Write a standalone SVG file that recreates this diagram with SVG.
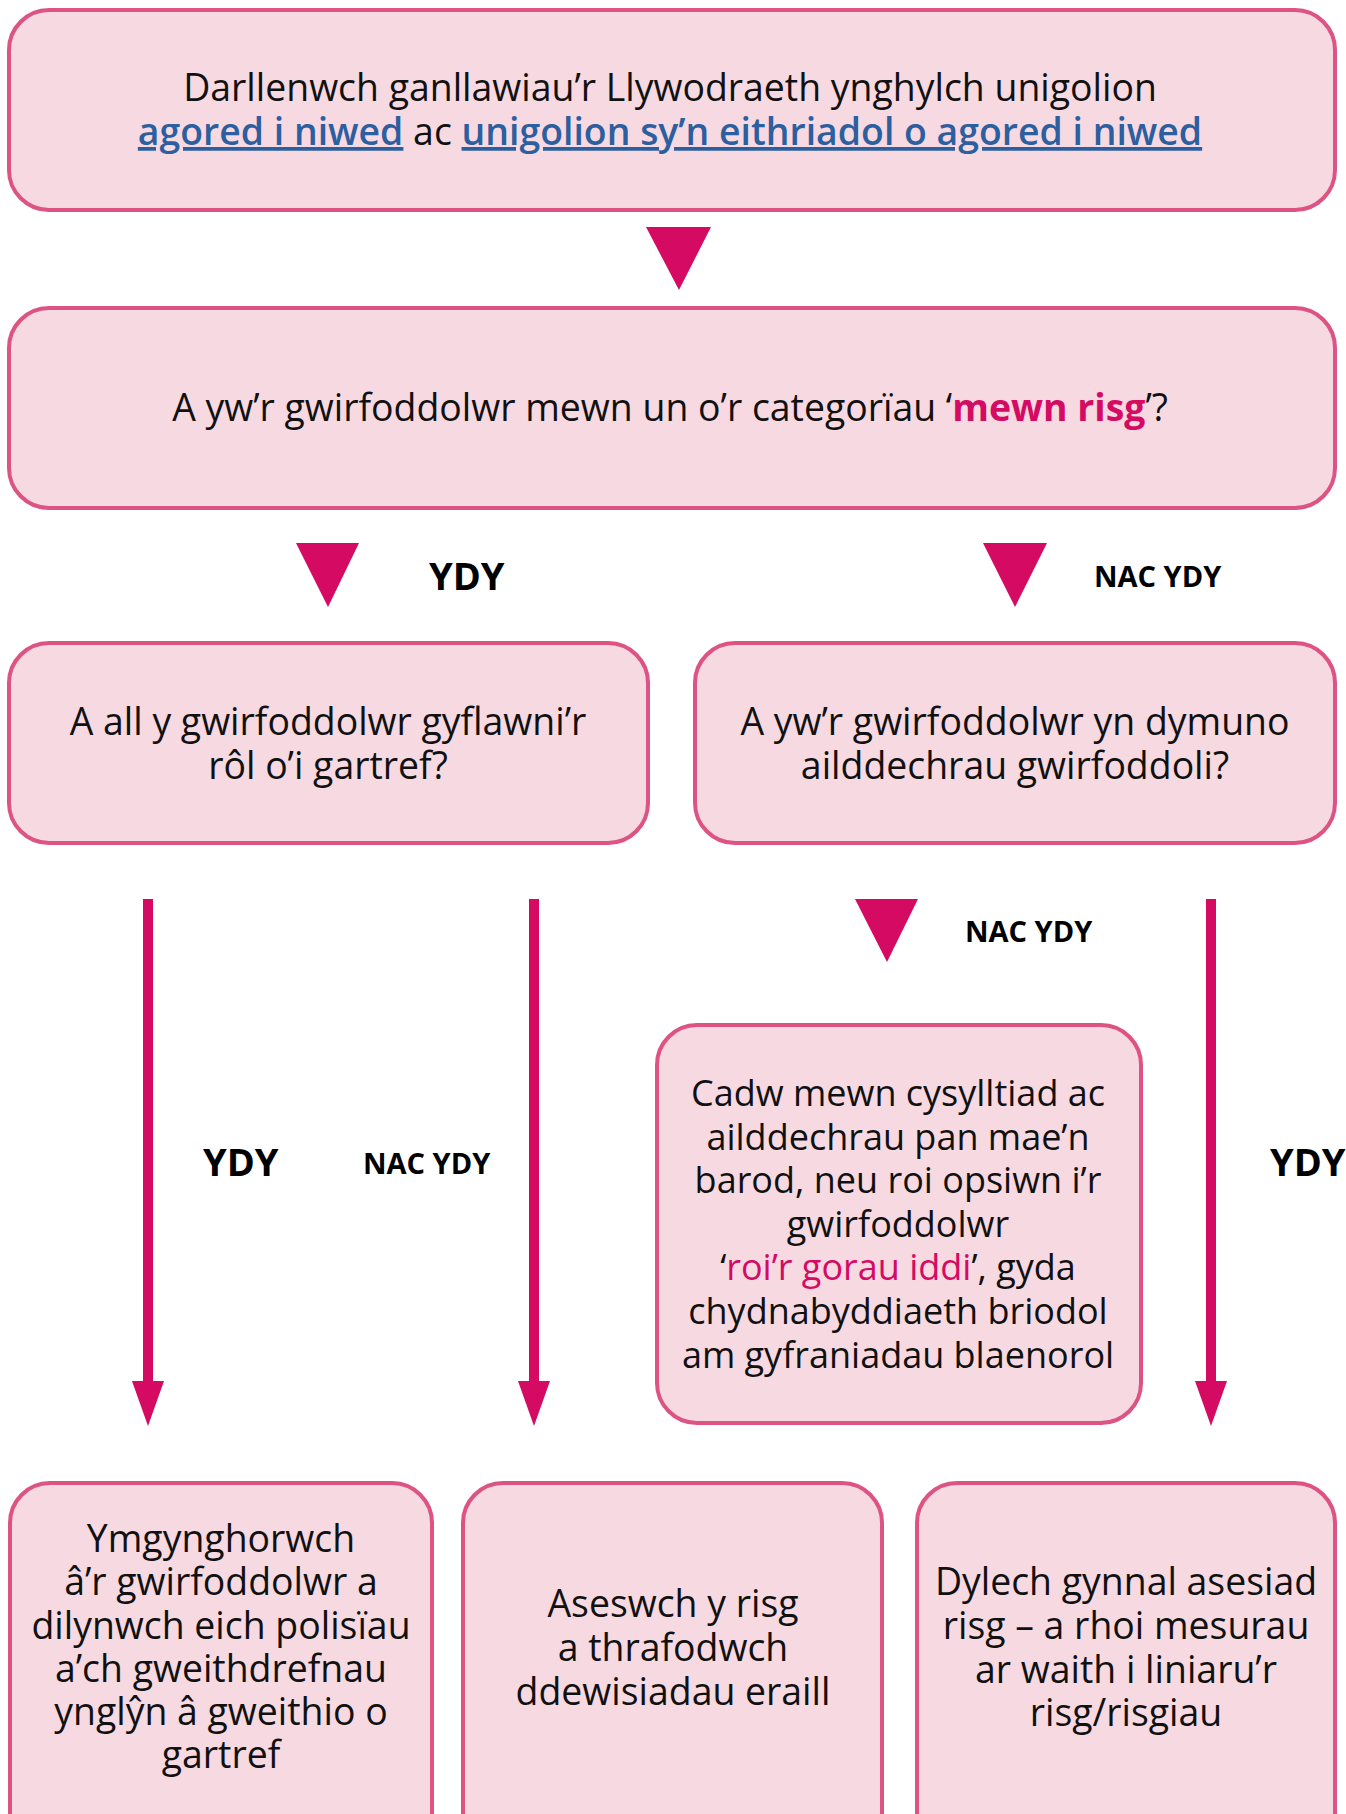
<svg xmlns="http://www.w3.org/2000/svg" width="1346" height="1814" viewBox="0 0 1346 1814">
<style>
.box{fill:#f7d9e1;stroke:#dd5384;stroke-width:4}
.t{font-family:"Open Sans","Noto Sans","Liberation Sans",sans-serif;font-size:37.4px;fill:#111;text-anchor:middle}
.s{font-size:36px}
.lbl{font-family:"Open Sans","Noto Sans","Liberation Sans",sans-serif;font-weight:700;fill:#000}
.link{fill:#2c5f9f;font-weight:600;text-decoration:underline}
.mag{fill:#d40a63}
.arr{fill:#d40a63}
.shaft{stroke:#d40a63;stroke-width:10}
</style>
<rect width="1346" height="1814" fill="#ffffff"/>
<g id="n1">
<rect class="box" x="9" y="10" width="1326" height="200" rx="40"/>
<text class="t" x="670" y="101">Darllenwch ganllawiau’r Llywodraeth ynghylch unigolion</text>
<text class="t" x="670" y="145"><tspan class="link">agored i niwed</tspan> ac <tspan class="link">unigolion sy’n eithriadol o agored i niwed</tspan></text>
</g>
<g id="n2">
<rect class="box" x="9" y="308" width="1326" height="200" rx="40"/>
<text class="t" x="670" y="421">A yw’r gwirfoddolwr mewn un o’r categorïau ‘<tspan class="mag" font-weight="700">mewn risg</tspan>’?</text>
</g>
<g id="n3">
<rect class="box" x="9" y="643" width="639" height="200" rx="40"/>
<text class="t" x="328" y="735">A all y gwirfoddolwr gyflawni’r</text>
<text class="t" x="328" y="779">rôl o’i gartref?</text>
</g>
<g id="n4">
<rect class="box" x="695" y="643" width="640" height="200" rx="40"/>
<text class="t" x="1015" y="735">A yw’r gwirfoddolwr yn dymuno</text>
<text class="t" x="1015" y="779">ailddechrau gwirfoddoli?</text>
</g>
<g id="n5">
<rect class="box" x="657" y="1025" width="484" height="398" rx="40"/>
<text class="t s" x="898" y="1106">Cadw mewn cysylltiad ac</text>
<text class="t s" x="898" y="1150">ailddechrau pan mae’n</text>
<text class="t s" x="898" y="1193">barod, neu roi opsiwn i’r</text>
<text class="t s" x="898" y="1237">gwirfoddolwr</text>
<text class="t s" x="898" y="1280">‘<tspan class="mag">roi’r gorau iddi</tspan>’, gyda</text>
<text class="t s" x="898" y="1324">chydnabyddiaeth briodol</text>
<text class="t s" x="898" y="1368">am gyfraniadau blaenorol</text>
</g>
<g id="n6">
<rect class="box" x="10" y="1483" width="422" height="380" rx="40"/>
<text class="t" x="221" y="1552">Ymgynghorwch</text>
<text class="t" x="221" y="1595">â’r gwirfoddolwr a</text>
<text class="t" x="221" y="1639">dilynwch eich polisïau</text>
<text class="t" x="221" y="1682">a’ch gweithdrefnau</text>
<text class="t" x="221" y="1725">ynglŷn â gweithio o</text>
<text class="t" x="221" y="1768">gartref</text>
</g>
<g id="n7">
<rect class="box" x="463" y="1483" width="419" height="380" rx="40"/>
<text class="t" x="673" y="1617">Aseswch y risg</text>
<text class="t" x="673" y="1661">a thrafodwch</text>
<text class="t" x="673" y="1705">ddewisiadau eraill</text>
</g>
<g id="n8">
<rect class="box" x="917" y="1483" width="418" height="380" rx="40"/>
<text class="t" x="1126" y="1595">Dylech gynnal asesiad</text>
<text class="t" x="1126" y="1639">risg – a rhoi mesurau</text>
<text class="t" x="1126" y="1683">ar waith i liniaru’r</text>
<text class="t" x="1126" y="1726">risg/risgiau</text>
</g>
<g id="connectors">
<polygon class="arr" points="646,227 711,227 679,290"/>
<polygon class="arr" points="296,543 359,543 328,607"/>
<polygon class="arr" points="983,543 1047,543 1015,607"/>
<polygon class="arr" points="855,899 918,899 887,962"/>
<line class="shaft" x1="148" y1="899" x2="148" y2="1385"/>
<polygon class="arr" points="132,1381 164,1381 148,1426"/>
<line class="shaft" x1="534" y1="899" x2="534" y2="1385"/>
<polygon class="arr" points="518,1381 550,1381 534,1426"/>
<line class="shaft" x1="1211" y1="899" x2="1211" y2="1385"/>
<polygon class="arr" points="1195,1381 1227,1381 1211,1426"/>
<text class="lbl" x="429" y="590" font-size="38">YDY</text>
<text class="lbl" x="1094" y="587" font-size="29">NAC YDY</text>
<text class="lbl" x="965" y="942" font-size="29">NAC YDY</text>
<text class="lbl" x="203" y="1176" font-size="38">YDY</text>
<text class="lbl" x="363" y="1174" font-size="29">NAC YDY</text>
<text class="lbl" x="1270" y="1176" font-size="38">YDY</text>
</g>
</svg>
